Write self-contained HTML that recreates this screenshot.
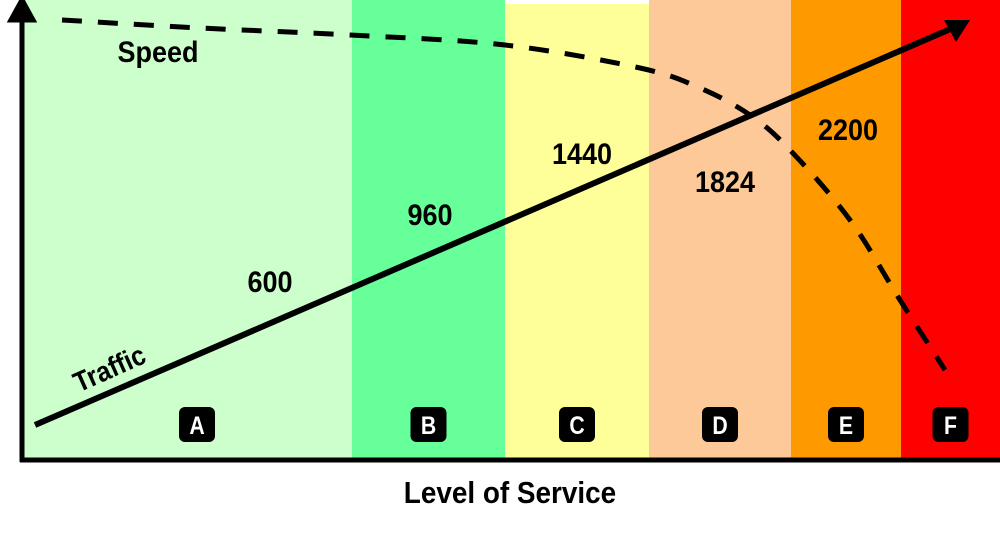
<!DOCTYPE html>
<html><head><meta charset="utf-8"><style>
body{margin:0;background:#fff;width:1000px;height:534px;overflow:hidden}
svg{display:block;font-family:"Liberation Sans",Arial,sans-serif;font-weight:bold}
</style></head><body>
<svg id="c" width="1000" height="534"></svg>
<script>
const losCategories=["A","B","C","D","E","F"];
const losBandEnds=[352,505,649,791,901,1000];
const losColors=["#ccffcc","#66ff99","#ffff99","#fdc998","#ff9900","#ff0000"];
const trafficValues=[600,960,1440,1824,2200];
const trafficLabelX=[270,430,582,725,848];
const trafficLabelY=[280,213,152,180,128];
const speedX=[62,200,350,505,640,700,750,790,850,900,945];
const speedY=[20,28,35,45,68,88,115,150,220,300,370];
const NS="http://www.w3.org/2000/svg";
const svg=document.getElementById('c');
function mk(t,a,p){const e=document.createElementNS(NS,t);for(const k in a)e.setAttribute(k,a[k]);(p||svg).appendChild(e);return e;}
let x0=22;
losCategories.forEach((c,i)=>{
  const top=i===2?4:0;
  const r=mk('rect',{x:x0,y:top,width:losBandEnds[i]-x0,height:460-top,fill:losColors[i]});
  
  
  const cx=(x0+losBandEnds[i])/2+(i===0?10:0);
  const b=mk('rect',{x:cx-18,y:407,width:36,height:35,rx:6,fill:'#000'});
  
  
  const t=mk('text',{x:cx,y:434,'text-anchor':'middle','font-size':25,fill:'#fff',transform:'translate('+cx+' 0) scale(0.85 1) translate('+(-cx)+' 0)'});
  t.textContent=c;
  
  
  x0=losBandEnds[i];
});
const ax=mk('path',{d:'M22 462 V8 M11 20 L22 0 L33 20 Z M20 460 H1000',stroke:'#000','stroke-width':5,fill:'#000'});


// smooth speed curve (Catmull-Rom)
let d='M'+speedX[0]+' '+speedY[0];
for(let i=0;i<speedX.length-1;i++){
  const p0=[speedX[Math.max(i-1,0)],speedY[Math.max(i-1,0)]],p1=[speedX[i],speedY[i]],p2=[speedX[i+1],speedY[i+1]],p3=[speedX[Math.min(i+2,speedX.length-1)],speedY[Math.min(i+2,speedX.length-1)]];
  const c1=[p1[0]+(p2[0]-p0[0])/6,p1[1]+(p2[1]-p0[1])/6],c2=[p2[0]-(p3[0]-p1[0])/6,p2[1]-(p3[1]-p1[1])/6];
  d+=' C'+c1[0]+' '+c1[1]+' '+c2[0]+' '+c2[1]+' '+p2[0]+' '+p2[1];
}
const sp=mk('path',{d:d,stroke:'#000','stroke-width':5,fill:'none','stroke-dasharray':'20 16'});


const tl=mk('path',{d:'M35 425 L955 27',stroke:'#000','stroke-width':6,fill:'none'});


const ah=mk('path',{d:'M970 20 L944 20 L956 42 Z',fill:'#000'});


function narrow(x){return 'translate('+x+' 0) scale(0.9 1) translate('+(-x)+' 0)';}
trafficValues.forEach((v,i)=>{
  const t=mk('text',{x:trafficLabelX[i],y:trafficLabelY[i]+12,'text-anchor':'middle','font-size':30,fill:'#000',transform:narrow(trafficLabelX[i])});
  t.textContent=v;
  
  
});
const s=mk('text',{x:158,y:62,'text-anchor':'middle','font-size':30,transform:narrow(158)});
s.textContent='Speed';


const tr=mk('text',{x:110,y:378,'text-anchor':'middle','font-size':28,transform:'rotate(-24 110 370) '+narrow(110)});
tr.textContent='Traffic';


const xt=mk('text',{x:510,y:503,'text-anchor':'middle','font-size':31,transform:narrow(510)});
xt.textContent='Level of Service';


</script>
</body></html>
